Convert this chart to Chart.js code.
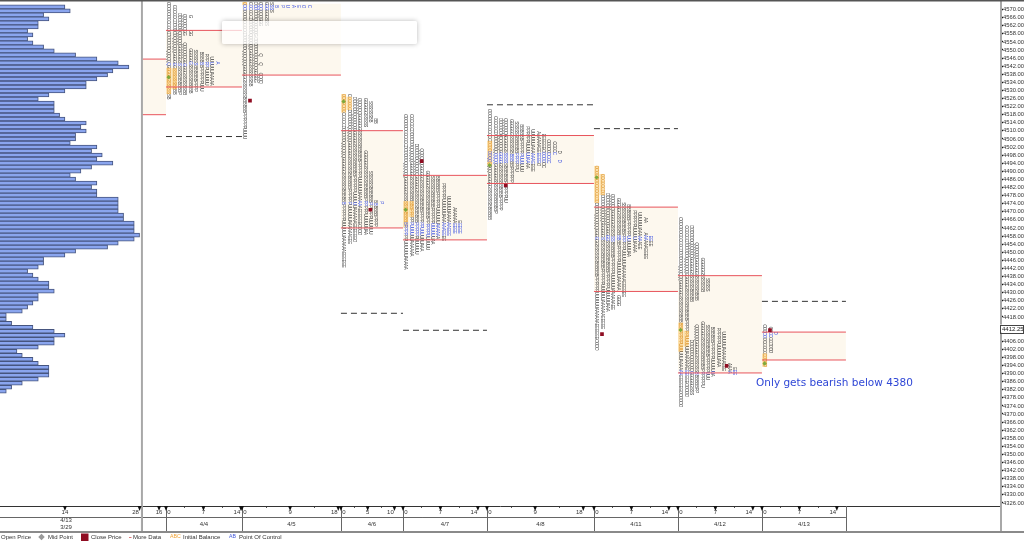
<!DOCTYPE html>
<html>
<head>
<meta charset="utf-8">
<title>Market profile</title>
<script src="https://cdn.jsdelivr.net/npm/chart.js@4"></script>
<style>
html,body{margin:0;padding:0;background:#fff;overflow:hidden}
#wrap{position:relative;width:1024px;height:543px}
#popup{position:absolute;left:222px;top:21px;width:195px;height:23px;background:rgba(255,255,255,.72);box-shadow:0 0 5px rgba(0,0,0,.28);border-radius:2px}
</style>
</head>
<body>
<div id="wrap">
<canvas id="chart" width="1024" height="543"></canvas>
<div id="popup"></div>
</div>
<script>
// price axis
const priceTicks=[4570,4566,4562,4558,4554,4550,4546,4542,4538,4534,4530,4526,4522,4518,4514,4510,4506,4502,4498,4494,4490,4486,4482,4478,4474,4470,4466,4462,4458,4454,4450,4446,4442,4438,4434,4430,4426,4422,4418,4406,4402,4398,4394,4390,4386,4382,4378,4374,4370,4366,4362,4358,4354,4350,4346,4342,4338,4334,4330,4326];
const lastPrice=4412.25;

// left volume profile, top row first
const profileTop=4572.3;
const profileStep=1.98;
const profileCounts=[14,15,10,11,9,9,7,8,7,8,10,12,16,20,24,26,23,22,20,18,18,14,11,9,12,12,12,13,14,18,17,18,16,16,15,20,19,21,20,23,19,17,15,16,20,19,20,20,24,24,
24,24,25,25,27,27,27,28,27,24,22,16,14,10,10,9,7,8,9,11,11,12,9,9,8,7,6,3,3,4,8,12,14,12,12,9,5,6,8,9,11,11,11,9,6,4,3];

// sessions, x is in TPO slots counted from the 4/4 open
const sessionDates=['4/4','4/5','4/6','4/7','4/8','4/11','4/12','4/13'];
const sessionStarts=[0,14.2,32.7,44.3,60,80,95.7,111.4];
const sessionEnd=127.1;
const prevStart=-4.5;
const sessionTicks=[[0,7,14],[0,9,18],[0,5,10],[0,7,14],[0,9,18],[0,7,14],[0,7,14],[0,7,14]];
const prevTick={slot:-1.3,label:'16'};
const profileTicks=[14,28];

// value area high / low, previous session first
const vaHigh=[4545.5,4559.7,4580,4510.1,4488,4507.7,4472.3,4438.4,4410.5];
const vaLow=[4518,4531.7,4537.6,4462,4456.1,4484,4430.6,4390.3,4396.7];
// dashed levels
const dashLevels=[4507.2,null,4419.8,4411.4,4522.9,4511.1,null,4425.7];

// letter columns per session: each column is a list of [top,bottom] price runs
const tpo0404=[[[4573,4525.5]],[[4571.5,4528]],[[4567.5,4528]],[[4567,4557],[4553,4528]],[[4566.5,4565.5],[4559,4557],[4550,4528]],[[4549.5,4529]],[[4548.5,4530]],[[4547.5,4532]],[[4546,4532.5]],[[4543.5,4542.5]]];
const tpo0405=[[[4573,4506]],[[4573,4532]],[[4573,4557],[4555.5,4533.5]],[[4573,4562],[4547.5,4546.5],[4543,4542],[4538,4533.5]],[[4573,4562]],[[4573,4569]],[[4571.5,4570.5]],[[4571.5,4570.5]],[[4571.5,4570.5]],[[4571.5,4570.5]],[[4571.5,4570.5]],[[4571.5,4570.5]],[[4571.5,4570.5]]];
const tpo0406=[[[4527.5,4442]],[[4527.5,4453.5]],[[4526,4455]],[[4525.5,4459]],[[4525.5,4511.5],[4499.5,4459]],[[4524,4514],[4489.5,4459]],[[4515.5,4513],[4475,4462]],[[4474.5,4473.5]]];
const tpo0407=[[[4517.5,4442]],[[4517.5,4448]],[[4503,4449]],[[4500.5,4451]],[[4489.5,4451]],[[4487,4454]],[[4487,4456]],[[4483.5,4456]],[[4477,4457.5]],[[4471.5,4458.5]],[[4465,4458.5]]];
const tpo0408=[[[4520,4466.5]],[[4516.5,4468.5]],[[4515.5,4470]],[[4515.5,4474]],[[4515,4484.5]],[[4514,4490.5]],[[4512.5,4489.5]],[[4511.5,4491]],[[4510,4489.5]],[[4509,4493]],[[4508,4492]],[[4505,4493.5]],[[4504,4498]],[[4499.5,4498.5],[4495,4494]]];
const tpo0411=[[[4492,4402]],[[4488,4412.5]],[[4478.5,4420]],[[4478,4421]],[[4476,4430.5],[4428,4424]],[[4474,4428]],[[4473,4447]],[[4470,4450]],[[4469,4451.5]],[[4466.5,4464],[4459,4446]],[[4457.5,4452.5]]];
const tpo0412=[[[4466.5,4374]],[[4462.5,4378]],[[4462.5,4425.5],[4406,4379]],[[4454,4425.5],[4413.5,4380.5]],[[4446.5,4430.5],[4415,4383]],[[4436.5,4430.5],[4413.5,4386.5]],[[4412.5,4389]],[[4412,4393]],[[4410,4391.5]],[[4394.5,4390]],[[4392.5,4389.5]]];
const tpo0413=[[[4413.5,4393]],[[4412.5,4399.5]],[[4410,4409]]];
const tpoColumns=[tpo0404,tpo0405,tpo0406,tpo0407,tpo0408,tpo0411,tpo0412,tpo0413];

// initial balance runs for the first two columns of each session
const ibRuns=[[[4541.5,4528],[4541.5,4530]],[[4573,4572]],[[4527.5,4519],[4526.5,4520.5]],[[4475.5,4462.5],[4475.5,4467.5]],[[4505,4493]],[[4492,4475],[4488,4478]],[[4414.5,4401],[4411,4403.5]],[[4400,4393],[4400,4398.5]]];
// point of control band per session
const pocBands=[[4543.5,4542.5],[4571.5,4570.5],[4474.5,4473.5],[4464,4458.5],[4499,4494.5],[4457.5,4456],[4391,4389.5],[4410,4408.5]];
const midPoints=[4536.5,null,4524.5,4471,4493,4487,4411.5,4395];
const closePrices=[null,4525,4471,4495,4483,4409.5,4393.8,4411.5];
const closeSlots=[null,1.5,5.5,3.5,3.5,1.5,9.1,1.5];

const annotation='Only gets bearish below 4380';
const annotationSlot=110.3;
const annotationPrice=4385.4;

const tpoLetters='OCDQGSBPUAE';
const tpoRowStep=1.3;

function segments(rows){
  const pts=[];
  rows.forEach(r=>{
    pts.push({x:r[0],y:r[2]},{x:r[1],y:r[2]},{x:r[1],y:NaN});
  });
  return pts;
}

const bounds=[prevStart].concat(sessionStarts,[sessionEnd]);
const redRows=[];
vaHigh.forEach((v,i)=>{
  redRows.push([bounds[i],bounds[i+1],v]);
  redRows.push([bounds[i],bounds[i+1],vaLow[i]]);
});
const dashRows=[];
dashLevels.forEach((v,i)=>{
  if(v!==null) dashRows.push([sessionStarts[i],bounds[i+2],v]);
});

const closePts=[];
closePrices.forEach((p,i)=>{
  if(p!==null) closePts.push({x:sessionStarts[i]+closeSlots[i],y:p});
});
const midPts=[];
midPoints.forEach((p,i)=>{
  if(p!==null) midPts.push({x:sessionStarts[i]+0.5,y:p});
});

const datasets=[
  {type:'scatter',label:'Close Price',data:closePts,pointStyle:'rect',pointRadius:2.6,backgroundColor:'#8f0d22',borderWidth:0,xAxisID:'x',yAxisID:'y'},
  {type:'scatter',label:'Mid Point',data:midPts,pointStyle:'rectRot',pointRadius:2.2,backgroundColor:'#7fa93a',borderWidth:0,xAxisID:'x',yAxisID:'y'},
  {type:'line',label:'Value Area',data:segments(redRows),borderColor:'#e8545c',borderWidth:1,pointRadius:0,spanGaps:false,fill:false,xAxisID:'x',yAxisID:'y'},
  {type:'line',label:'More Data',data:segments(dashRows),borderColor:'#333',borderWidth:1,borderDash:[6,4],pointRadius:0,spanGaps:false,fill:false,xAxisID:'x',yAxisID:'y'}
];
// cream band between the two value area lines
vaHigh.forEach((v,i)=>{
  const first=datasets.length;
  datasets.push({type:'line',data:[{x:bounds[i],y:v},{x:bounds[i+1],y:v}],borderWidth:0,pointRadius:0,backgroundColor:'#fdf8ee',fill:first+1,xAxisID:'x',yAxisID:'y'});
  datasets.push({type:'line',data:[{x:bounds[i],y:vaLow[i]},{x:bounds[i+1],y:vaLow[i]}],borderWidth:0,pointRadius:0,fill:false,xAxisID:'x',yAxisID:'y'});
});
datasets.push({
  type:'bar',label:'Profile',indexAxis:'y',
  data:profileCounts.map((c,i)=>({x:c,y:profileTop-i*profileStep})),
  backgroundColor:'#8aa5ee',borderColor:'#46557f',borderWidth:1,borderSkipped:false,barThickness:4,xAxisID:'xP',yAxisID:'y'
});

function drawLetters(chart){
  const ctx=chart.ctx, x=chart.scales.x, y=chart.scales.y;
  ctx.save();
  ctx.font='4.6px "Liberation Sans"';
  ctx.textAlign='center';
  ctx.textBaseline='middle';
  tpoColumns.forEach((cols,s)=>{
    const ib=ibRuns[s], poc=pocBands[s];
    cols.forEach((runs,c)=>{
      const px=x.getPixelForValue(sessionStarts[s]+c+0.5);
      runs.forEach(run=>{
        let row=0;
        for(let p=run[0];p>=run[1];p-=tpoRowStep){
          const py=y.getPixelForValue(p);
          const inIb=ib[c]&&p<=ib[c][0]&&p>=ib[c][1];
          const inPoc=p<=poc[0]+0.3&&p>=poc[1]-0.3;
          if(inIb){
            ctx.fillStyle='rgba(250,205,120,.6)';
            ctx.fillRect(px-2.5,py-1.4,5,2.8);
          }
          ctx.fillStyle=inPoc?'#3148e0':(inIb?'#d88a1c':'#3a3a3a');
          ctx.save();
          ctx.translate(px,py);
          ctx.rotate(Math.PI/2);
          ctx.fillText(tpoLetters[(c+Math.floor(row/6))%tpoLetters.length],0,0);
          ctx.restore();
          row++;
        }
      });
    });
  });
  ctx.restore();
}

function drawWedge(ctx,px,top){
  ctx.fillStyle='#111';
  ctx.beginPath();
  ctx.moveTo(px-2,top);
  ctx.lineTo(px+2,top);
  ctx.lineTo(px,top+5);
  ctx.closePath();
  ctx.fill();
}

const profilePlugin={
  id:'profile',
  beforeDatasetDraw(chart,args){
    if(chart.data.datasets[args.index].label==='Value Area') drawLetters(chart);
  },
  afterDraw(chart){
    const ctx=chart.ctx, x=chart.scales.x, xP=chart.scales.xP, y=chart.scales.y;
    const axisTop=chart.chartArea.bottom;
    const rowLine=517, bottomLine=531, legendY=537;
    ctx.save();

    // annotation
    ctx.font='10.5px "DejaVu Sans"';
    ctx.fillStyle='#2f47d6';
    ctx.textAlign='left';
    ctx.textBaseline='middle';
    ctx.fillText(annotation,x.getPixelForValue(annotationSlot),y.getPixelForValue(annotationPrice));

    // frame lines
    const endPx=x.getPixelForValue(sessionEnd);
    ctx.strokeStyle='#666';
    ctx.lineWidth=1;
    ctx.beginPath();
    ctx.moveTo(0,rowLine+.5);ctx.lineTo(endPx,rowLine+.5);
    [prevStart].concat(sessionStarts,[sessionEnd]).forEach((v,i)=>{
      const px=Math.round(x.getPixelForValue(v))+.5;
      ctx.moveTo(px,axisTop);ctx.lineTo(px,bottomLine);
    });
    ctx.stroke();

    ctx.fillStyle='#a8a8a8';
    ctx.fillRect(x.getPixelForValue(prevStart)-1,0,2,bottomLine);
    ctx.fillRect(1000,0,2,bottomLine);
    ctx.fillStyle='#8a8a8a';
    ctx.fillRect(0,bottomLine,1024,2);
    ctx.fillStyle='#555';
    ctx.fillRect(0,0,1024,1.5);

    // bottom tick labels
    ctx.font='6px "Liberation Sans"';
    ctx.fillStyle='#333';
    ctx.textAlign='center';
    const labelY=512.5;
    sessionTicks.forEach((ticks,s)=>{
      ticks.forEach((t,i)=>{
        const px=x.getPixelForValue(sessionStarts[s]+t);
        drawWedge(ctx,px,axisTop);
        ctx.fillStyle='#333';
        const off=i===0?3:(i===ticks.length-1?-4:0);
        ctx.fillText(String(t),px+off,labelY);
      });
    });
    const prevPx=x.getPixelForValue(prevTick.slot);
    drawWedge(ctx,prevPx,axisTop);
    ctx.fillStyle='#333';
    ctx.fillText(prevTick.label,prevPx,labelY);
    profileTicks.forEach((t,i)=>{
      const px=xP.getPixelForValue(t);
      drawWedge(ctx,px,axisTop);
      ctx.fillStyle='#333';
      ctx.fillText(String(t),px-(i===1?4:0),labelY);
    });

    // dates
    sessionDates.forEach((d,i)=>{
      const mid=(bounds[i+1]+bounds[i+2])/2;
      ctx.fillText(d,x.getPixelForValue(mid),524);
    });
    ctx.fillText('4/13',66,520);
    ctx.fillText('3/29',66,527.5);

    // last price box
    const lp=y.getPixelForValue(lastPrice);
    ctx.fillStyle='#fff';
    ctx.strokeStyle='#444';
    ctx.fillRect(1000,lp-4,23.5,8);
    ctx.strokeRect(1000.5,Math.round(lp-4)+.5,23,8);
    ctx.fillStyle='#222';
    ctx.textAlign='left';
    ctx.fillText(lastPrice.toFixed(2),1002,lp+.5);

    // legend strip
    ctx.fillStyle='#333';
    ctx.fillText('Open Price',1,legendY);
    ctx.fillText('Mid Point',48,legendY);
    ctx.fillText('Close Price',91,legendY);
    ctx.fillText('More Data',133,legendY);
    ctx.fillText('Initial Balance',183,legendY);
    ctx.fillText('Point Of Control',239,legendY);
    ctx.font='5.2px "Liberation Sans"';
    ctx.fillStyle='#f0a030';
    ctx.fillText('ABC',170,legendY);
    ctx.fillStyle='#3f55d8';
    ctx.fillText('AB',229,legendY);
    ctx.fillStyle='#999';
    ctx.save();
    ctx.translate(41.5,537);
    ctx.rotate(Math.PI/4);
    ctx.fillRect(-2.3,-2.3,4.6,4.6);
    ctx.restore();
    ctx.fillStyle='#8f0d22';
    ctx.fillRect(81,533.5,7.5,7.5);
    ctx.fillStyle='#d77';
    ctx.fillRect(129,537,2.5,1);
    ctx.restore();
  }
};

new Chart(document.getElementById('chart'),{
  type:'bar',
  data:{datasets:datasets},
  plugins:[profilePlugin],
  options:{
    responsive:false,
    animation:false,
    events:[],
    layout:{padding:0,autoPadding:false},
    plugins:{legend:{display:false},tooltip:{enabled:false},filler:{propagate:false}},
    scales:{
      x:{
        type:'linear',position:'bottom',offset:false,
        min:-31.03,max:155.9,
        afterBuildTicks(s){
          const t=[];
          sessionTicks.forEach((ticks,i)=>{
            ticks.forEach(v=>t.push({value:sessionStarts[i]+v}));
            t.push({value:sessionStarts[i]+ticks[1]/2,minor:true});
            t.push({value:sessionStarts[i]+(ticks[1]+ticks[2])/2,minor:true});
          });
          s.ticks=t;
        },
        afterFit(s){s.height=37;},
        border:{color:'#333',width:1},
        grid:{drawOnChartArea:false,offset:false,tickLength:2,tickColor:'#555'},
        ticks:{display:false,autoSkip:false}
      },
      xP:{type:'linear',display:false,offset:false,min:1.82,max:189.4},
      y:{
        type:'linear',position:'right',offset:false,
        min:4324.5,max:4573,
        afterBuildTicks(s){s.ticks=priceTicks.map(v=>({value:v}));},
        afterFit(s){s.width=24;},
        border:{display:false},
        grid:{drawOnChartArea:false,offset:false,tickLength:3,tickColor:'#111',tickWidth:1.5},
        ticks:{
          autoSkip:false,padding:0,color:'#333',
          font:{family:'"Liberation Sans"',size:5.8},
          callback:v=>v.toFixed(2)
        }
      }
    }
  }
});
</script>
</body>
</html>
